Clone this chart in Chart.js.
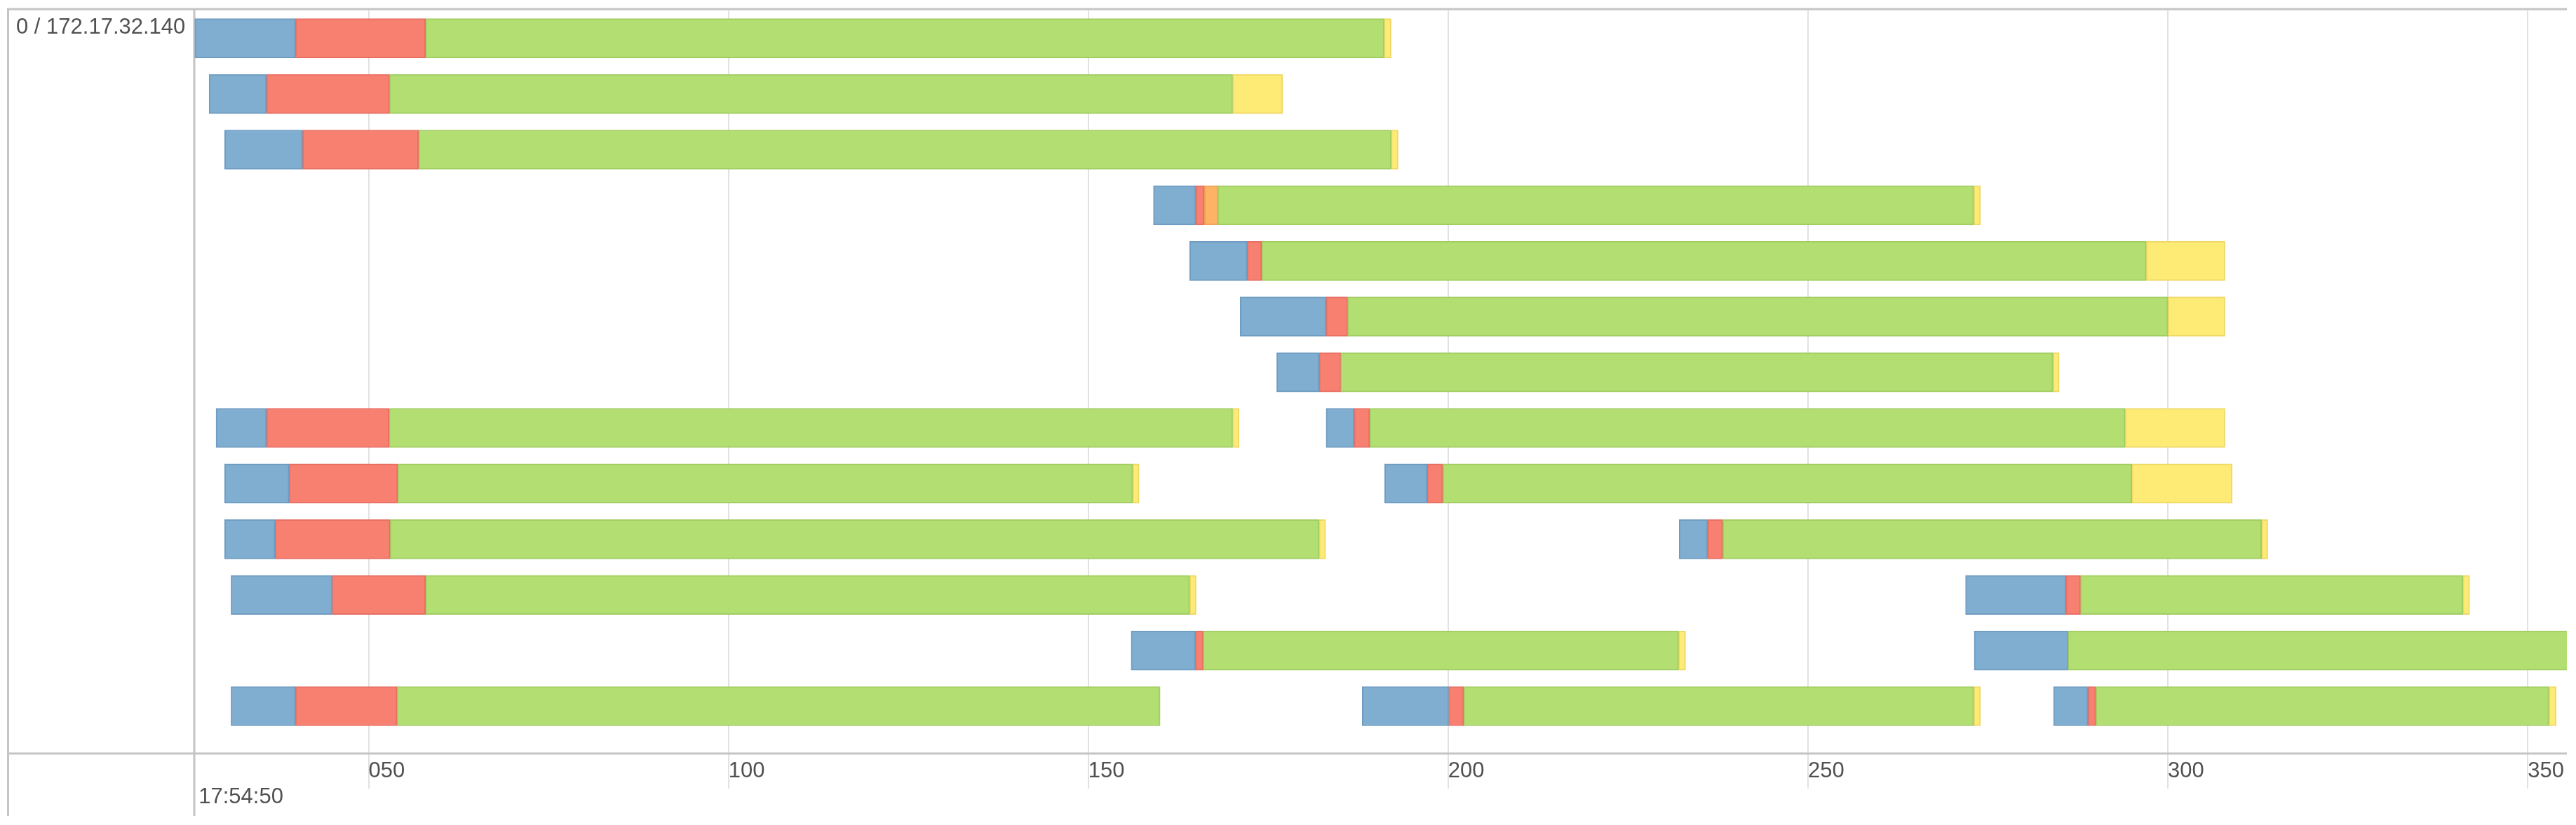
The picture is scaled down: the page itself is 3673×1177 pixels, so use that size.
<!DOCTYPE html>
<html>
<head>
<meta charset="utf-8">
<title>Timeline</title>
<script src="https://cdn.jsdelivr.net/npm/chart.js@4.4.1/dist/chart.umd.min.js"></script>
<style>
    html, body { margin: 0; padding: 0; background: #ffffff; }
    #wrap { width: 3673px; height: 1177px; position: relative; }
</style>
</head>
<body>
<div id="wrap"><canvas id="timeline"></canvas></div>
<script>
(function() {
    'use strict';

    // Rótulos
    var hostLabel = '0 / 172.17.32.140';
    var startLabel = '17:54:50';
    var tickValues = [50, 100, 150, 200, 250, 300, 350];
    var tickLabels = ['050', '100', '150', '200', '250', '300', '350'];
    var xMin = 25.78;
    var xMax = 355.44;

    // Uma entrada por requisição (ms após 17:54:50)
    var requestRow = [0, 1, 2, 3, 4, 5, 6, 7, 7, 8, 8, 9, 9, 10, 10, 11, 11, 12, 12, 12];
    var tStart     = [25.85, 27.84, 29.99, 159.05, 164.08, 171.10, 176.18, 28.80, 183.04, 29.99, 191.18, 29.99, 232.09, 30.89, 271.89, 155.95, 273.09, 30.89, 188.05, 284.11];
    var tConnect   = [39.84, 35.81, 40.82, 164.94, 172.07, 183.04, 182.07, 35.81, 186.93, 38.96, 197.08, 37.01, 236.05, 44.93, 285.84, 164.90, null, 39.84, 200.06, 288.91];
    var tSsl       = [null, null, null, 166.11, null, null, null, null, null, null, null, null, null, null, null, null, null, null, null, null];
    var tWait      = [57.91, 52.90, 56.94, 168.00, 174.09, 186.03, 185.06, 52.84, 189.09, 54.03, 199.24, 52.98, 238.14, 57.91, 287.85, 165.95, 286.11, 53.95, 202.15, 289.98];
    var tReceive   = [191.10, 170.05, 192.08, 273.03, 296.99, 300.00, 284.04, 170.05, 294.06, 156.17, 294.99, 182.07, 313.02, 164.08, 340.99, 232.01, 358.00, 159.98, 273.03, 352.94];
    var tEnd       = [192.08, 177.00, 193.05, 273.96, 307.94, 307.94, 284.91, 170.95, 307.94, 157.07, 308.94, 182.97, 313.88, 164.98, 341.92, 232.99, 358.00, 159.98, 273.96, 353.94];

    var fontFamily = "'Liberation Sans', Arial, sans-serif";

    /**
     * Monta a lista de barras flutuantes de uma fase
     */
    function phase(fromArr, toFn) {
        var out = [];
        for (var i = 0; i < requestRow.length; i++) {
            var from = fromArr[i];
            var to = toFn(i);
            if (from == null || to == null || to <= from) continue;
            out.push({ x: [from, to], y: requestRow[i] });
        }
        return out;
    }

    var connectData = phase(tStart, function(i) { return tConnect[i] != null ? tConnect[i] : tWait[i]; });
    var sendData = phase(tConnect, function(i) { return tSsl[i] != null ? tSsl[i] : tWait[i]; });
    var sslData = phase(tSsl, function(i) { return tWait[i]; });
    var waitData = phase(tWait, function(i) { return tReceive[i]; });
    var receiveData = phase(tReceive, function(i) { return tEnd[i]; });

    // Moldura da tabela (bordas cinza)
    var framePlugin = {
        id: 'frame',
        beforeDatasetsDraw: function(chart) {
            var ctx = chart.ctx;
            var a = chart.chartArea;
            var frameLeft = a.left - 265.5;
            var frameBottom = a.bottom + 89;
            ctx.save();
            ctx.strokeStyle = '#c4c4c4';
            ctx.lineWidth = 3;
            ctx.beginPath();
            ctx.moveTo(frameLeft - 1.5, a.top - 2);
            ctx.lineTo(a.right, a.top - 2);
            ctx.moveTo(frameLeft, a.top - 3.5);
            ctx.lineTo(frameLeft, frameBottom);
            ctx.moveTo(a.left, a.top - 3.5);
            ctx.lineTo(a.left, frameBottom);
            ctx.moveTo(frameLeft - 1.5, a.bottom);
            ctx.lineTo(a.right, a.bottom);
            ctx.stroke();
            ctx.restore();
        }
    };

    new Chart(document.getElementById('timeline').getContext('2d'), {
        type: 'bar',
        data: {
            datasets: [
                { label: 'Connect', data: connectData, backgroundColor: '#80aed0', borderColor: '#6f9cc2' },
                { label: 'Send', data: sendData, backgroundColor: '#f88070', borderColor: '#e86f64' },
                { label: 'SSL', data: sslData, backgroundColor: '#fcb464', borderColor: '#eea454' },
                { label: 'Wait', data: waitData, backgroundColor: '#b3df72', borderColor: '#a2cd62' },
                { label: 'Receive', data: receiveData, backgroundColor: '#feeb75', borderColor: '#f0d866' }
            ]
        },
        options: {
            indexAxis: 'y',
            responsive: true,
            maintainAspectRatio: false,
            animation: false,
            devicePixelRatio: 1,
            layout: {
                padding: { left: 23, top: 15, right: 13, bottom: 0 }
            },
            datasets: {
                bar: {
                    grouped: false,
                    barThickness: 56,
                    borderWidth: 2,
                    borderSkipped: false
                }
            },
            plugins: {
                legend: { display: false },
                tooltip: { enabled: false }
            },
            scales: {
                x: {
                    type: 'linear',
                    position: 'bottom',
                    min: xMin,
                    max: xMax,
                    offset: false,
                    border: { display: false },
                    grid: {
                        color: function(ctx) {
                            return ctx.tick && ctx.tick.value === xMin ? 'rgba(0,0,0,0)' : '#e2e2e2';
                        },
                        lineWidth: 2,
                        tickLength: 50
                    },
                    afterBuildTicks: function(scale) {
                        scale.ticks = [xMin].concat(tickValues).map(function(v) { return { value: v }; });
                    },
                    afterFit: function(scale) {
                        scale.height = 102;
                        scale.paddingLeft = 0;
                        scale.paddingRight = 0;
                    },
                    ticks: {
                        align: 'start',
                        padding: -43,
                        autoSkip: false,
                        maxRotation: 0,
                        color: '#505050',
                        font: { family: fontFamily, size: 31 },
                        callback: function(value) {
                            if (value === xMin) return ['', '\u2009' + startLabel];
                            var k = tickValues.indexOf(value);
                            return k >= 0 ? tickLabels[k] : '';
                        }
                    }
                },
                y: {
                    type: 'linear',
                    reverse: true,
                    min: -0.5,
                    max: 12.85,
                    offset: false,
                    border: { display: false },
                    grid: { display: false, offset: false },
                    afterBuildTicks: function(scale) {
                        scale.ticks = [{ value: 0 }];
                    },
                    afterFit: function(scale) {
                        scale.width = 254;
                        scale.paddingTop = 0;
                        scale.paddingBottom = 0;
                    },
                    ticks: {
                        crossAlign: 'far',
                        labelOffset: -15,
                        color: '#505050',
                        font: { family: fontFamily, size: 31 },
                        callback: function(value) {
                            return value === 0 ? hostLabel : '';
                        }
                    }
                }
            }
        },
        plugins: [framePlugin]
    });
})();
</script>
</body>
</html>
